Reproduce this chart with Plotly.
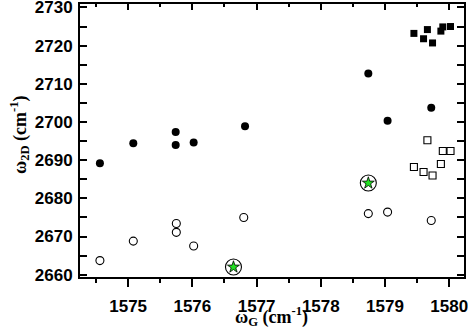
import plotly.graph_objects as go

# Data
filled_circle_x = [1574.56, 1575.08, 1575.74, 1575.74, 1576.02, 1576.82, 1578.74, 1579.04, 1579.72]
filled_circle_y = [2689.2, 2694.4, 2697.4, 2694.0, 2694.6, 2698.9, 2712.7, 2700.3, 2703.7]

open_circle_x = [1574.56, 1575.08, 1575.75, 1575.75, 1576.02, 1576.80, 1578.74, 1579.04, 1579.72]
open_circle_y = [2663.7, 2668.8, 2673.4, 2671.1, 2667.5, 2675.0, 2676.0, 2676.4, 2674.2]

filled_square_x = [1579.45, 1579.66, 1579.60, 1579.74, 1579.87, 1579.90, 1580.02]
filled_square_y = [2723.2, 2724.2, 2721.8, 2720.7, 2723.8, 2724.9, 2725.0]

open_square_x = [1579.66, 1579.90, 1580.02, 1579.87, 1579.45, 1579.60, 1579.74]
open_square_y = [2695.2, 2692.4, 2692.4, 2689.0, 2688.2, 2686.9, 2686.0]

star_x = [1576.64, 1578.74]
star_y = [2662.0, 2684.0]

x_ticks = [1575, 1576, 1577, 1578, 1579, 1580]
y_ticks = [2660, 2670, 2680, 2690, 2700, 2710, 2720, 2730]

x_title = "ω<sub>G</sub> (cm<sup>-1</sup>)"
y_title = "ω<sub>2D</sub> (cm<sup>-1</sup>)"

x_range = [1574.25, 1580.23]
y_range = [2659.4, 2730.9]

fig = go.Figure()
fig.add_trace(go.Scatter(x=filled_circle_x, y=filled_circle_y, mode="markers",
                         marker=dict(symbol="circle", size=8, color="black")))
fig.add_trace(go.Scatter(x=open_circle_x, y=open_circle_y, mode="markers",
                         marker=dict(symbol="circle-open", size=8, color="black", line=dict(width=1.1))))
fig.add_trace(go.Scatter(x=filled_square_x, y=filled_square_y, mode="markers",
                         marker=dict(symbol="square", size=7, color="black")))
fig.add_trace(go.Scatter(x=open_square_x, y=open_square_y, mode="markers",
                         marker=dict(symbol="square-open", size=7, color="black", line=dict(width=1.1))))
fig.add_trace(go.Scatter(x=star_x, y=star_y, mode="markers",
                         marker=dict(symbol="circle-open", size=16, color="black", line=dict(width=1.1))))
fig.add_trace(go.Scatter(x=star_x, y=star_y, mode="markers",
                         marker=dict(symbol="star", size=9, color="#22e022", line=dict(width=0.8, color="black"))))
fig.add_trace(go.Scatter(x=[], y=[], xaxis="x2", showlegend=False))

tickfont = dict(family="Liberation Sans, Arial", size=17, color="black", weight="bold")
titlefont = dict(family="Liberation Serif, Times New Roman", size=18, color="black", weight="bold")

fig.update_layout(
    template="none",
    width=468, height=331,
    margin=dict(l=80, r=4, t=4, b=54, autoexpand=False),
    paper_bgcolor="white", plot_bgcolor="white",
    showlegend=False,
    xaxis=dict(range=x_range, tickvals=x_ticks, ticks="outside", ticklen=8, tickwidth=1.5,
               tickcolor="black", showline=True, linecolor="black", linewidth=2,
               showgrid=False, zeroline=False, tickfont=tickfont, automargin=False,
               ticklabelstandoff=5, ticklabeloverflow="allow",
               minor=dict(dtick=0.5, tick0=1574.5, ticks="outside", ticklen=4, tickwidth=1.5, tickcolor="black")),
    xaxis2=dict(range=x_range, overlaying="x", side="top", tickvals=x_ticks, ticks="inside",
                ticklen=6, tickwidth=1.5, tickcolor="black", showline=True, linecolor="black",
                linewidth=2, showgrid=False, zeroline=False, showticklabels=False, automargin=False,
                minor=dict(dtick=0.5, tick0=1574.5, ticks="inside", ticklen=3, tickwidth=1.5, tickcolor="black")),
    yaxis=dict(range=y_range, tickvals=y_ticks, ticks="inside", ticklen=7, tickwidth=1.5,
               tickcolor="black", showline=True, linecolor="black", linewidth=2, mirror="allticks",
               showgrid=False, zeroline=False, tickfont=tickfont, automargin=False,
               ticklabelstandoff=2, ticklabeloverflow="allow",
               minor=dict(dtick=5, tick0=2655, ticks="inside", ticklen=4, tickwidth=1.5, tickcolor="black")),
    annotations=[
        dict(text=x_title, xref="paper", yref="paper", x=0.4974, y=-0.1445,
             xanchor="center", yanchor="middle", showarrow=False, font=titlefont),
        dict(text=y_title, xref="paper", yref="paper", x=-0.1589, y=0.5238, textangle=-90,
             xanchor="center", yanchor="middle", showarrow=False, font=titlefont),
    ],
)

fig.write_html("out.html", config={"displayModeBar": False},
               post_script="document.body.style.margin='0';")
